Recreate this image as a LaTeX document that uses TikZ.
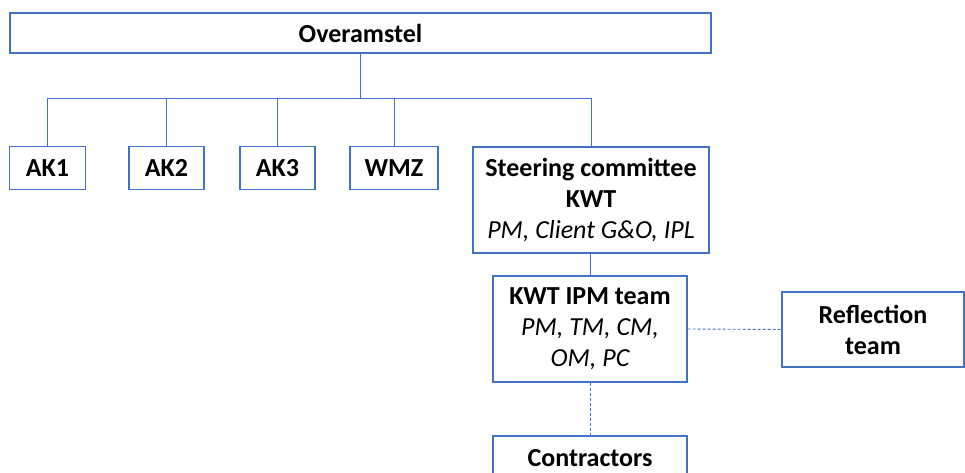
\documentclass[tikz,border=0pt]{standalone}
\usepackage{fontspec}
\setmainfont{Carlito}
\definecolor{orgblue}{RGB}{68,114,196}
\tikzset{
  unit/.style={draw=orgblue, line width=1.1pt, fill=white, inner sep=0pt,
    align=center, font=\fontsize{26}{31}\selectfont\bfseries},
  link/.style={draw=orgblue, line width=0.9pt},
  dotlink/.style={draw=orgblue, line width=0.9pt, dash pattern=on 3pt off 2pt},
}
\newcommand{\roles}[1]{{\mdseries\itshape #1}}
\begin{document}
\begin{tikzpicture}[x=1pt,y=-1pt]
\useasboundingbox (0,0) rectangle (965,473);
\clip (0,0) rectangle (965,473);

% top level
\node[unit, minimum width=701pt, minimum height=40pt] (top) at (360.5,33) {Overamstel};

% second level
\node[unit, minimum width=76pt, minimum height=43pt] (ak1) at (47.5,168) {AK1};
\node[unit, minimum width=75pt, minimum height=43pt] (ak2) at (166.5,168) {AK2};
\node[unit, minimum width=75pt, minimum height=43pt] (ak3) at (277.5,168) {AK3};
\node[unit, minimum width=88pt, minimum height=43pt] (wmz) at (394,168) {WMZ};
\node[unit, minimum width=236pt, minimum height=106pt] (steer) at (591,200)
  {Steering committee\\KWT\\\roles{PM, Client G\&O, IPL}};

% project level
\node[unit, minimum width=194pt, minimum height=106pt] (ipm) at (590,329)
  {KWT IPM team\\\roles{PM, TM, CM,}\\\roles{OM, PC}};
\node[unit, minimum width=182pt, minimum height=75pt] (refl) at (873,329.5)
  {Reflection\\team};
\node[unit, minimum width=194pt, minimum height=44pt] (contr) at (590,458)
  {Contractors};

% hierarchy connectors
\coordinate (bus) at (360,98);
\draw[link] (top.south -| bus) -- (bus);
\draw[link] (ak1.north) -- (ak1.north |- bus) -- (steer.north |- bus) -- (steer.north);
\draw[link] (ak2.north) -- (ak2.north |- bus);
\draw[link] (ak3.north) -- (ak3.north |- bus);
\draw[link] (wmz.north) -- (wmz.north |- bus);
\draw[link] (steer.south -| ipm.north) -- (ipm.north);

% advisory / contract connectors
\draw[dotlink] (ipm.east) -- (refl.west);
\draw[dotlink] (ipm.south) -- (contr.north);
\end{tikzpicture}
\end{document}
